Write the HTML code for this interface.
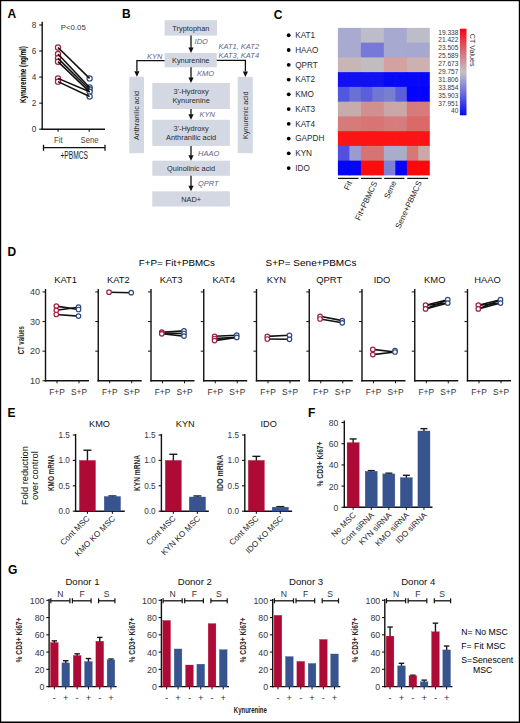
<!DOCTYPE html>
<html><head><meta charset="utf-8"><style>
html,body{margin:0;padding:0;background:#fff;}
svg{display:block;font-family:"Liberation Sans", sans-serif;}
</style></head><body>
<svg width="520" height="723" viewBox="0 0 520 723">
<rect x="0" y="0" width="520" height="723" fill="#fff"/>
<rect x="0" y="0" width="520" height="1.2" fill="#000"/>
<rect x="0" y="0" width="1.2" height="723" fill="#000"/>
<rect x="518.8" y="0" width="1.2" height="723" fill="#000"/>
<rect x="0" y="721.5" width="520" height="1.5" fill="#000"/>
<text x="7.6" y="17.72" font-size="12" font-weight="bold" fill="#000">A</text>
<text x="121.9" y="17.52" font-size="12" font-weight="bold" fill="#000">B</text>
<text x="273.7" y="18.52" font-size="12" font-weight="bold" fill="#000">C</text>
<text x="7.6" y="255.62" font-size="12" font-weight="bold" fill="#000">D</text>
<text x="7.6" y="416.82" font-size="12" font-weight="bold" fill="#000">E</text>
<text x="308" y="416.72" font-size="12" font-weight="bold" fill="#000">F</text>
<text x="8" y="573.82" font-size="12" font-weight="bold" fill="#000">G</text>
<line x1="42.2" y1="21.8" x2="42.2" y2="129.9" stroke="#111" stroke-width="1.4" stroke-linecap="butt"/>
<line x1="41.5" y1="129.2" x2="105" y2="129.2" stroke="#111" stroke-width="1.4" stroke-linecap="butt"/>
<line x1="39.2" y1="24.96" x2="42.2" y2="24.96" stroke="#111" stroke-width="1.1" stroke-linecap="butt"/>
<text x="36.4" y="27.91" font-size="8.2" text-anchor="end" fill="#333">8</text>
<line x1="39.2" y1="51.02" x2="42.2" y2="51.02" stroke="#111" stroke-width="1.1" stroke-linecap="butt"/>
<text x="36.4" y="53.97" font-size="8.2" text-anchor="end" fill="#333">6</text>
<line x1="39.2" y1="77.08" x2="42.2" y2="77.08" stroke="#111" stroke-width="1.1" stroke-linecap="butt"/>
<text x="36.4" y="80.03" font-size="8.2" text-anchor="end" fill="#333">4</text>
<line x1="39.2" y1="103.14" x2="42.2" y2="103.14" stroke="#111" stroke-width="1.1" stroke-linecap="butt"/>
<text x="36.4" y="106.09" font-size="8.2" text-anchor="end" fill="#333">2</text>
<line x1="39.2" y1="129.2" x2="42.2" y2="129.2" stroke="#111" stroke-width="1.1" stroke-linecap="butt"/>
<text x="36.4" y="132.15" font-size="8.2" text-anchor="end" fill="#333">0</text>
<line x1="58.1" y1="129.2" x2="58.1" y2="131.8" stroke="#111" stroke-width="1.1" stroke-linecap="butt"/>
<line x1="89.2" y1="129.2" x2="89.2" y2="131.8" stroke="#111" stroke-width="1.1" stroke-linecap="butt"/>
<text transform="translate(23,74.6) rotate(-90)" x="0" y="3.46" font-size="9.6" text-anchor="middle" font-weight="bold" textLength="57" lengthAdjust="spacingAndGlyphs">Kynurenine (ng/ml)</text>
<text x="73.3" y="30.28" font-size="8" text-anchor="middle" fill="#333" textLength="25" lengthAdjust="spacingAndGlyphs">P&lt;0.05</text>
<circle cx="58" cy="47.5" r="2.6" fill="#fff" stroke="#9e2244" stroke-width="1.2"/>
<circle cx="58" cy="54.02" r="2.6" fill="#fff" stroke="#9e2244" stroke-width="1.2"/>
<circle cx="58" cy="58.32" r="2.6" fill="#fff" stroke="#9e2244" stroke-width="1.2"/>
<circle cx="58" cy="61.7" r="2.6" fill="#fff" stroke="#9e2244" stroke-width="1.2"/>
<circle cx="58" cy="78.38" r="2.6" fill="#fff" stroke="#9e2244" stroke-width="1.2"/>
<circle cx="58" cy="81.64" r="2.6" fill="#fff" stroke="#9e2244" stroke-width="1.2"/>
<circle cx="89.6" cy="78.38" r="2.6" fill="#fff" stroke="#314a80" stroke-width="1.2"/>
<circle cx="89.6" cy="87.5" r="2.6" fill="#fff" stroke="#314a80" stroke-width="1.2"/>
<circle cx="89.6" cy="89.46" r="2.6" fill="#fff" stroke="#314a80" stroke-width="1.2"/>
<circle cx="89.6" cy="91.8" r="2.6" fill="#fff" stroke="#314a80" stroke-width="1.2"/>
<circle cx="89.6" cy="96.49" r="2.6" fill="#fff" stroke="#314a80" stroke-width="1.2"/>
<line x1="58" y1="47.5" x2="89.6" y2="78.38" stroke="#111" stroke-width="1.6" stroke-linecap="butt"/>
<line x1="58" y1="54.02" x2="89.6" y2="87.5" stroke="#111" stroke-width="1.6" stroke-linecap="butt"/>
<line x1="58" y1="58.32" x2="89.6" y2="89.46" stroke="#111" stroke-width="1.6" stroke-linecap="butt"/>
<line x1="58" y1="61.7" x2="89.6" y2="91.8" stroke="#111" stroke-width="1.6" stroke-linecap="butt"/>
<line x1="58" y1="78.38" x2="89.6" y2="91.8" stroke="#111" stroke-width="1.6" stroke-linecap="butt"/>
<line x1="58" y1="81.64" x2="89.6" y2="96.49" stroke="#111" stroke-width="1.6" stroke-linecap="butt"/>
<text x="58.4" y="143.24" font-size="9" text-anchor="middle" fill="#444" textLength="8.6" lengthAdjust="spacingAndGlyphs">Fit</text>
<text x="89.6" y="143.24" font-size="9" text-anchor="middle" fill="#444" textLength="18" lengthAdjust="spacingAndGlyphs">Sene</text>
<line x1="43.5" y1="147.7" x2="105" y2="147.7" stroke="#111" stroke-width="1.3" stroke-linecap="butt"/>
<line x1="43.5" y1="144.8" x2="43.5" y2="150.8" stroke="#111" stroke-width="1.3" stroke-linecap="butt"/>
<line x1="105" y1="144.8" x2="105" y2="150.8" stroke="#111" stroke-width="1.3" stroke-linecap="butt"/>
<text x="74.2" y="159.4" font-size="10" text-anchor="middle" fill="#1a1a1a" textLength="27.6" lengthAdjust="spacingAndGlyphs">+PBMCS</text>
<rect x="164.6" y="20.2" width="52.4" height="15.4" fill="#d3d8e2"/>
<text x="190.8" y="30.56" font-size="7.4" text-anchor="middle" fill="#2a2a2a">Tryptophan</text>
<rect x="164.6" y="52.9" width="52.2" height="14.4" fill="#d3d8e2"/>
<text x="190.7" y="62.76" font-size="7.4" text-anchor="middle" fill="#2a2a2a">Kynurenine</text>
<rect x="152.3" y="82.9" width="77.6" height="26.1" fill="#d3d8e2"/>
<text x="191.1" y="93.81" font-size="7.4" text-anchor="middle" fill="#2a2a2a">3'-Hydroxy</text>
<text x="191.1" y="103.41" font-size="7.4" text-anchor="middle" fill="#2a2a2a">Kynurenine</text>
<rect x="152.3" y="119.8" width="77.6" height="26.1" fill="#d3d8e2"/>
<text x="191.1" y="130.71" font-size="7.4" text-anchor="middle" fill="#2a2a2a">3'-Hydroxy</text>
<text x="191.1" y="140.31" font-size="7.4" text-anchor="middle" fill="#2a2a2a">Anthranilic acid</text>
<rect x="152.3" y="160.7" width="77.6" height="15.1" fill="#d3d8e2"/>
<text x="191.1" y="170.91" font-size="7.4" text-anchor="middle" fill="#2a2a2a">Quinolinic acid</text>
<rect x="152.3" y="191.3" width="77.6" height="15.2" fill="#d3d8e2"/>
<text x="191.1" y="201.56" font-size="7.4" text-anchor="middle" fill="#2a2a2a">NAD+</text>
<rect x="129.3" y="76.7" width="14.7" height="76.5" fill="#d3d8e2"/>
<rect x="237.7" y="76.9" width="15.1" height="76.3" fill="#d3d8e2"/>
<text transform="translate(136.7,115.5) rotate(-90)" x="0" y="2.74" font-size="7.6" text-anchor="middle" fill="#2a2a2a" textLength="49.2" lengthAdjust="spacingAndGlyphs">Anthranilic acid</text>
<text transform="translate(245.2,115.3) rotate(-90)" x="0" y="2.74" font-size="7.6" text-anchor="middle" fill="#2a2a2a" textLength="47.6" lengthAdjust="spacingAndGlyphs">Kynurenic acid</text>
<line x1="191" y1="35.6" x2="191" y2="47.9" stroke="#111" stroke-width="1.3" stroke-linecap="butt"/>
<polygon points="188.4,47.4 193.6,47.4 191,52.9" fill="#111"/>
<line x1="191" y1="67.3" x2="191" y2="77.9" stroke="#111" stroke-width="1.3" stroke-linecap="butt"/>
<polygon points="188.4,77.4 193.6,77.4 191,82.9" fill="#111"/>
<line x1="191" y1="109" x2="191" y2="114.8" stroke="#111" stroke-width="1.3" stroke-linecap="butt"/>
<polygon points="188.4,114.3 193.6,114.3 191,119.8" fill="#111"/>
<line x1="191" y1="145.9" x2="191" y2="155.7" stroke="#111" stroke-width="1.3" stroke-linecap="butt"/>
<polygon points="188.4,155.2 193.6,155.2 191,160.7" fill="#111"/>
<line x1="191" y1="175.8" x2="191" y2="186.3" stroke="#111" stroke-width="1.3" stroke-linecap="butt"/>
<polygon points="188.4,185.8 193.6,185.8 191,191.3" fill="#111"/>
<polyline points="164.6,60.6 136.9,60.6 136.9,71.5" fill="none" stroke="#111" stroke-width="1.3"/>
<polygon points="134.3,71.2 139.5,71.2 136.9,76.7" fill="#111"/>
<polyline points="216.8,60.4 245.4,60.4 245.4,71.5" fill="none" stroke="#111" stroke-width="1.3"/>
<polygon points="242.8,71.4 248.0,71.4 245.4,76.9" fill="#111"/>
<text x="194.6" y="44.2" font-size="7.5" font-style="italic" fill="#5c6488">IDO</text>
<text x="196.9" y="76.4" font-size="7.5" font-style="italic" fill="#5c6488">KMO</text>
<text x="199.4" y="117.1" font-size="7.5" font-style="italic" fill="#5c6488">KYN</text>
<text x="198" y="156.2" font-size="7.5" font-style="italic" fill="#5c6488">HAAO</text>
<text x="198" y="185.8" font-size="7.5" font-style="italic" fill="#5c6488">QPRT</text>
<text x="146.9" y="58.9" font-size="7.5" font-style="italic" fill="#5c6488">KYN</text>
<text x="218.5" y="48.5" font-size="7.5" font-style="italic" fill="#5c6488">KAT1, KAT2</text>
<text x="218.5" y="57.6" font-size="7.5" font-style="italic" fill="#5c6488">KAT3, KAT4</text>
<circle cx="288.7" cy="35.27" r="1.9" fill="#000"/>
<text x="295.2" y="38.03" font-size="8.2" fill="#2a2a2a">KAT1</text>
<rect x="337.9" y="27.9" width="12.09" height="15.35" fill="#a9aacf"/>
<rect x="349.39" y="27.9" width="12.09" height="15.35" fill="#a9aacf"/>
<rect x="360.88" y="27.9" width="12.09" height="15.35" fill="#bcbccb"/>
<rect x="372.36" y="27.9" width="12.09" height="15.35" fill="#bcbccb"/>
<rect x="383.85" y="27.9" width="12.09" height="15.35" fill="#a8a9d1"/>
<rect x="395.34" y="27.9" width="12.09" height="15.35" fill="#a8a9d1"/>
<rect x="406.82" y="27.9" width="12.09" height="15.35" fill="#bdbdc9"/>
<rect x="418.31" y="27.9" width="11.49" height="15.35" fill="#bdbdc9"/>
<circle cx="288.7" cy="50.02" r="1.9" fill="#000"/>
<text x="295.2" y="52.78" font-size="8.2" fill="#2a2a2a">HAAO</text>
<rect x="337.9" y="42.65" width="12.09" height="15.35" fill="#a9aacf"/>
<rect x="349.39" y="42.65" width="12.09" height="15.35" fill="#a9aacf"/>
<rect x="360.88" y="42.65" width="12.09" height="15.35" fill="#7878d8"/>
<rect x="372.36" y="42.65" width="12.09" height="15.35" fill="#7878d8"/>
<rect x="383.85" y="42.65" width="12.09" height="15.35" fill="#a8a9d1"/>
<rect x="395.34" y="42.65" width="12.09" height="15.35" fill="#a8a9d1"/>
<rect x="406.82" y="42.65" width="12.09" height="15.35" fill="#a6a8d0"/>
<rect x="418.31" y="42.65" width="11.49" height="15.35" fill="#a6a8d0"/>
<circle cx="288.7" cy="64.78" r="1.9" fill="#000"/>
<text x="295.2" y="67.53" font-size="8.2" fill="#2a2a2a">QPRT</text>
<rect x="337.9" y="57.4" width="12.09" height="15.35" fill="#c8b6b6"/>
<rect x="349.39" y="57.4" width="12.09" height="15.35" fill="#c8b6b6"/>
<rect x="360.88" y="57.4" width="12.09" height="15.35" fill="#c0bcc0"/>
<rect x="372.36" y="57.4" width="12.09" height="15.35" fill="#c0bcc0"/>
<rect x="383.85" y="57.4" width="12.09" height="15.35" fill="#d4a0a0"/>
<rect x="395.34" y="57.4" width="12.09" height="15.35" fill="#d4a0a0"/>
<rect x="406.82" y="57.4" width="12.09" height="15.35" fill="#cdb0b0"/>
<rect x="418.31" y="57.4" width="11.49" height="15.35" fill="#cdb0b0"/>
<circle cx="288.7" cy="79.53" r="1.9" fill="#000"/>
<text x="295.2" y="82.28" font-size="8.2" fill="#2a2a2a">KAT2</text>
<rect x="337.9" y="72.15" width="12.09" height="15.35" fill="#1010f2"/>
<rect x="349.39" y="72.15" width="12.09" height="15.35" fill="#1010f2"/>
<rect x="360.88" y="72.15" width="12.09" height="15.35" fill="#1010f2"/>
<rect x="372.36" y="72.15" width="12.09" height="15.35" fill="#1010f2"/>
<rect x="383.85" y="72.15" width="12.09" height="15.35" fill="#0808f8"/>
<rect x="395.34" y="72.15" width="12.09" height="15.35" fill="#0808f8"/>
<rect x="406.82" y="72.15" width="12.09" height="15.35" fill="#0808f8"/>
<rect x="418.31" y="72.15" width="11.49" height="15.35" fill="#0808f8"/>
<circle cx="288.7" cy="94.28" r="1.9" fill="#000"/>
<text x="295.2" y="97.03" font-size="8.2" fill="#2a2a2a">KMO</text>
<rect x="337.9" y="86.9" width="12.09" height="15.35" fill="#5058e0"/>
<rect x="349.39" y="86.9" width="12.09" height="15.35" fill="#6a70d8"/>
<rect x="360.88" y="86.9" width="12.09" height="15.35" fill="#5a60dc"/>
<rect x="372.36" y="86.9" width="12.09" height="15.35" fill="#7076d4"/>
<rect x="383.85" y="86.9" width="12.09" height="15.35" fill="#787ed0"/>
<rect x="395.34" y="86.9" width="12.09" height="15.35" fill="#5a60dc"/>
<rect x="406.82" y="86.9" width="12.09" height="15.35" fill="#0404fa"/>
<rect x="418.31" y="86.9" width="11.49" height="15.35" fill="#0404fa"/>
<circle cx="288.7" cy="109.03" r="1.9" fill="#000"/>
<text x="295.2" y="111.78" font-size="8.2" fill="#2a2a2a">KAT3</text>
<rect x="337.9" y="101.65" width="12.09" height="15.35" fill="#c8acac"/>
<rect x="349.39" y="101.65" width="12.09" height="15.35" fill="#c8acac"/>
<rect x="360.88" y="101.65" width="12.09" height="15.35" fill="#d09090"/>
<rect x="372.36" y="101.65" width="12.09" height="15.35" fill="#d09090"/>
<rect x="383.85" y="101.65" width="12.09" height="15.35" fill="#cba6a6"/>
<rect x="395.34" y="101.65" width="12.09" height="15.35" fill="#cba6a6"/>
<rect x="406.82" y="101.65" width="12.09" height="15.35" fill="#d67a7a"/>
<rect x="418.31" y="101.65" width="11.49" height="15.35" fill="#d67a7a"/>
<circle cx="288.7" cy="123.78" r="1.9" fill="#000"/>
<text x="295.2" y="126.53" font-size="8.2" fill="#2a2a2a">KAT4</text>
<rect x="337.9" y="116.4" width="12.09" height="15.35" fill="#d67a7a"/>
<rect x="349.39" y="116.4" width="12.09" height="15.35" fill="#d67a7a"/>
<rect x="360.88" y="116.4" width="12.09" height="15.35" fill="#d87474"/>
<rect x="372.36" y="116.4" width="12.09" height="15.35" fill="#d87474"/>
<rect x="383.85" y="116.4" width="12.09" height="15.35" fill="#d67c7c"/>
<rect x="395.34" y="116.4" width="12.09" height="15.35" fill="#d67c7c"/>
<rect x="406.82" y="116.4" width="12.09" height="15.35" fill="#dc6868"/>
<rect x="418.31" y="116.4" width="11.49" height="15.35" fill="#dc6868"/>
<circle cx="288.7" cy="138.53" r="1.9" fill="#000"/>
<text x="295.2" y="141.28" font-size="8.2" fill="#2a2a2a">GAPDH</text>
<rect x="337.9" y="131.15" width="12.09" height="15.35" fill="#fc1414"/>
<rect x="349.39" y="131.15" width="12.09" height="15.35" fill="#fc1414"/>
<rect x="360.88" y="131.15" width="12.09" height="15.35" fill="#fc1414"/>
<rect x="372.36" y="131.15" width="12.09" height="15.35" fill="#fc1414"/>
<rect x="383.85" y="131.15" width="12.09" height="15.35" fill="#fc1414"/>
<rect x="395.34" y="131.15" width="12.09" height="15.35" fill="#fc1414"/>
<rect x="406.82" y="131.15" width="12.09" height="15.35" fill="#fc1414"/>
<rect x="418.31" y="131.15" width="11.49" height="15.35" fill="#fc1414"/>
<circle cx="288.7" cy="153.28" r="1.9" fill="#000"/>
<text x="295.2" y="156.03" font-size="8.2" fill="#2a2a2a">KYN</text>
<rect x="337.9" y="145.9" width="12.09" height="15.35" fill="#5050e0"/>
<rect x="349.39" y="145.9" width="12.09" height="15.35" fill="#9a9cd0"/>
<rect x="360.88" y="145.9" width="12.09" height="15.35" fill="#d67474"/>
<rect x="372.36" y="145.9" width="12.09" height="15.35" fill="#d67474"/>
<rect x="383.85" y="145.9" width="12.09" height="15.35" fill="#aaaccc"/>
<rect x="395.34" y="145.9" width="12.09" height="15.35" fill="#aaaccc"/>
<rect x="406.82" y="145.9" width="12.09" height="15.35" fill="#d67878"/>
<rect x="418.31" y="145.9" width="11.49" height="15.35" fill="#c8a8a8"/>
<circle cx="288.7" cy="168.03" r="1.9" fill="#000"/>
<text x="295.2" y="170.78" font-size="8.2" fill="#2a2a2a">IDO</text>
<rect x="337.9" y="160.65" width="12.09" height="14.75" fill="#0404fa"/>
<rect x="349.39" y="160.65" width="12.09" height="14.75" fill="#0404fa"/>
<rect x="360.88" y="160.65" width="12.09" height="14.75" fill="#fc0c0c"/>
<rect x="372.36" y="160.65" width="12.09" height="14.75" fill="#fc0c0c"/>
<rect x="383.85" y="160.65" width="12.09" height="14.75" fill="#7c80d6"/>
<rect x="395.34" y="160.65" width="12.09" height="14.75" fill="#0404fa"/>
<rect x="406.82" y="160.65" width="12.09" height="14.75" fill="#fc0808"/>
<rect x="418.31" y="160.65" width="11.49" height="14.75" fill="#fc0808"/>
<line x1="338" y1="178.4" x2="358.5" y2="178.4" stroke="#111" stroke-width="1.2" stroke-linecap="butt"/>
<line x1="361" y1="178.4" x2="381.8" y2="178.4" stroke="#111" stroke-width="1.2" stroke-linecap="butt"/>
<line x1="384.2" y1="178.4" x2="404.4" y2="178.4" stroke="#111" stroke-width="1.2" stroke-linecap="butt"/>
<line x1="407.2" y1="178.4" x2="428.2" y2="178.4" stroke="#111" stroke-width="1.2" stroke-linecap="butt"/>
<text transform="translate(352.3,182.6) rotate(-65)" x="0" y="0" font-size="8" text-anchor="end" fill="#222">Fit</text>
<text transform="translate(377.5,182.8) rotate(-65)" x="0" y="0" font-size="8" text-anchor="end" fill="#222">Fit+PBMCS</text>
<text transform="translate(396.6,182.4) rotate(-65)" x="0" y="0" font-size="8" text-anchor="end" fill="#222">Sene</text>
<text transform="translate(422.0,182.3) rotate(-65)" x="0" y="0" font-size="8" text-anchor="end" fill="#222">Sene+PBMCS</text>
<defs><linearGradient id="cb" x1="0" y1="0" x2="0" y2="1"><stop offset="0" stop-color="#f80010"/><stop offset="0.25" stop-color="#d86a72"/><stop offset="0.5" stop-color="#c4c2c8"/><stop offset="0.75" stop-color="#6a6ad8"/><stop offset="1" stop-color="#0808f0"/></linearGradient></defs>
<rect x="459.9" y="28.7" width="6.6" height="86.6" fill="url(#cb)"/>
<text x="458.4" y="34.58" font-size="6.6" text-anchor="end" fill="#383838">19.338</text>
<text x="458.4" y="42.46" font-size="6.6" text-anchor="end" fill="#383838">21.422</text>
<text x="458.4" y="50.34" font-size="6.6" text-anchor="end" fill="#383838">23.505</text>
<text x="458.4" y="58.22" font-size="6.6" text-anchor="end" fill="#383838">25.589</text>
<text x="458.4" y="66.1" font-size="6.6" text-anchor="end" fill="#383838">27.673</text>
<text x="458.4" y="73.98" font-size="6.6" text-anchor="end" fill="#383838">29.757</text>
<text x="458.4" y="81.86" font-size="6.6" text-anchor="end" fill="#383838">31.806</text>
<text x="458.4" y="89.74" font-size="6.6" text-anchor="end" fill="#383838">33.854</text>
<text x="458.4" y="97.62" font-size="6.6" text-anchor="end" fill="#383838">35.903</text>
<text x="458.4" y="105.5" font-size="6.6" text-anchor="end" fill="#383838">37.951</text>
<text x="458.4" y="113.38" font-size="6.6" text-anchor="end" fill="#383838">40</text>
<text transform="translate(472.7,50.2) rotate(90)" x="0" y="2.59" font-size="7.2" text-anchor="middle" fill="#333">CT Values</text>
<text x="138.8" y="265.74" font-size="9" textLength="76.2" lengthAdjust="spacingAndGlyphs">F+P= Fit+PBMCs</text>
<text x="265.6" y="266.44" font-size="9" textLength="90.8" lengthAdjust="spacingAndGlyphs">S+P= Sene+PBMCs</text>
<text x="65.5" y="283.38" font-size="9.4" text-anchor="middle" fill="#111">KAT1</text>
<line x1="45.5" y1="289" x2="45.5" y2="381.45" stroke="#111" stroke-width="1.4" stroke-linecap="butt"/>
<line x1="44.8" y1="380.75" x2="89" y2="380.75" stroke="#111" stroke-width="1.4" stroke-linecap="butt"/>
<line x1="42.5" y1="291.95" x2="45.5" y2="291.95" stroke="#111" stroke-width="1" stroke-linecap="butt"/>
<line x1="42.5" y1="321.55" x2="45.5" y2="321.55" stroke="#111" stroke-width="1" stroke-linecap="butt"/>
<line x1="42.5" y1="351.15" x2="45.5" y2="351.15" stroke="#111" stroke-width="1" stroke-linecap="butt"/>
<line x1="57" y1="380.75" x2="57" y2="383.3" stroke="#111" stroke-width="1" stroke-linecap="butt"/>
<line x1="79" y1="380.75" x2="79" y2="383.3" stroke="#111" stroke-width="1" stroke-linecap="butt"/>
<text x="57" y="394.77" font-size="8.4" text-anchor="middle" fill="#333">F+P</text>
<text x="79" y="394.77" font-size="8.4" text-anchor="middle" fill="#333">S+P</text>
<line x1="56.3" y1="306.1" x2="78.5" y2="309.5" stroke="#111" stroke-width="1.6" stroke-linecap="butt"/>
<line x1="56.3" y1="310.3" x2="78.5" y2="307.2" stroke="#111" stroke-width="1.6" stroke-linecap="butt"/>
<line x1="56.3" y1="314.5" x2="78.5" y2="316.1" stroke="#111" stroke-width="1.6" stroke-linecap="butt"/>
<circle cx="56.3" cy="306.1" r="2.25" fill="#fff" stroke="#9e2244" stroke-width="1.2"/>
<circle cx="56.3" cy="310.3" r="2.25" fill="#fff" stroke="#9e2244" stroke-width="1.2"/>
<circle cx="56.3" cy="314.5" r="2.25" fill="#fff" stroke="#9e2244" stroke-width="1.2"/>
<circle cx="78.5" cy="307.2" r="2.25" fill="#fff" stroke="#314a80" stroke-width="1.2"/>
<circle cx="78.5" cy="309.5" r="2.25" fill="#fff" stroke="#314a80" stroke-width="1.2"/>
<circle cx="78.5" cy="316.1" r="2.25" fill="#fff" stroke="#314a80" stroke-width="1.2"/>
<text x="118.25" y="283.38" font-size="9.4" text-anchor="middle" fill="#111">KAT2</text>
<line x1="98.25" y1="289" x2="98.25" y2="381.45" stroke="#111" stroke-width="1.4" stroke-linecap="butt"/>
<line x1="97.55" y1="380.75" x2="141.75" y2="380.75" stroke="#111" stroke-width="1.4" stroke-linecap="butt"/>
<line x1="95.25" y1="291.95" x2="98.25" y2="291.95" stroke="#111" stroke-width="1" stroke-linecap="butt"/>
<line x1="95.25" y1="321.55" x2="98.25" y2="321.55" stroke="#111" stroke-width="1" stroke-linecap="butt"/>
<line x1="95.25" y1="351.15" x2="98.25" y2="351.15" stroke="#111" stroke-width="1" stroke-linecap="butt"/>
<line x1="109.75" y1="380.75" x2="109.75" y2="383.3" stroke="#111" stroke-width="1" stroke-linecap="butt"/>
<line x1="131.75" y1="380.75" x2="131.75" y2="383.3" stroke="#111" stroke-width="1" stroke-linecap="butt"/>
<text x="109.75" y="394.77" font-size="8.4" text-anchor="middle" fill="#333">F+P</text>
<text x="131.75" y="394.77" font-size="8.4" text-anchor="middle" fill="#333">S+P</text>
<line x1="109.05" y1="292.2" x2="131.25" y2="292.7" stroke="#111" stroke-width="1.6" stroke-linecap="butt"/>
<circle cx="109.05" cy="292.2" r="2.25" fill="#fff" stroke="#9e2244" stroke-width="1.2"/>
<circle cx="131.25" cy="292.7" r="2.25" fill="#fff" stroke="#314a80" stroke-width="1.2"/>
<text x="171" y="283.38" font-size="9.4" text-anchor="middle" fill="#111">KAT3</text>
<line x1="151" y1="289" x2="151" y2="381.45" stroke="#111" stroke-width="1.4" stroke-linecap="butt"/>
<line x1="150.3" y1="380.75" x2="194.5" y2="380.75" stroke="#111" stroke-width="1.4" stroke-linecap="butt"/>
<line x1="148" y1="291.95" x2="151" y2="291.95" stroke="#111" stroke-width="1" stroke-linecap="butt"/>
<line x1="148" y1="321.55" x2="151" y2="321.55" stroke="#111" stroke-width="1" stroke-linecap="butt"/>
<line x1="148" y1="351.15" x2="151" y2="351.15" stroke="#111" stroke-width="1" stroke-linecap="butt"/>
<line x1="162.5" y1="380.75" x2="162.5" y2="383.3" stroke="#111" stroke-width="1" stroke-linecap="butt"/>
<line x1="184.5" y1="380.75" x2="184.5" y2="383.3" stroke="#111" stroke-width="1" stroke-linecap="butt"/>
<text x="162.5" y="394.77" font-size="8.4" text-anchor="middle" fill="#333">F+P</text>
<text x="184.5" y="394.77" font-size="8.4" text-anchor="middle" fill="#333">S+P</text>
<line x1="161.8" y1="332.2" x2="184" y2="330.9" stroke="#111" stroke-width="1.6" stroke-linecap="butt"/>
<line x1="161.8" y1="333" x2="184" y2="333.5" stroke="#111" stroke-width="1.6" stroke-linecap="butt"/>
<line x1="161.8" y1="333.8" x2="184" y2="336.1" stroke="#111" stroke-width="1.6" stroke-linecap="butt"/>
<circle cx="161.8" cy="332.2" r="2.25" fill="#fff" stroke="#9e2244" stroke-width="1.2"/>
<circle cx="161.8" cy="333" r="2.25" fill="#fff" stroke="#9e2244" stroke-width="1.2"/>
<circle cx="161.8" cy="333.8" r="2.25" fill="#fff" stroke="#9e2244" stroke-width="1.2"/>
<circle cx="184" cy="330.9" r="2.25" fill="#fff" stroke="#314a80" stroke-width="1.2"/>
<circle cx="184" cy="333.5" r="2.25" fill="#fff" stroke="#314a80" stroke-width="1.2"/>
<circle cx="184" cy="336.1" r="2.25" fill="#fff" stroke="#314a80" stroke-width="1.2"/>
<text x="223.75" y="283.38" font-size="9.4" text-anchor="middle" fill="#111">KAT4</text>
<line x1="203.75" y1="289" x2="203.75" y2="381.45" stroke="#111" stroke-width="1.4" stroke-linecap="butt"/>
<line x1="203.05" y1="380.75" x2="247.25" y2="380.75" stroke="#111" stroke-width="1.4" stroke-linecap="butt"/>
<line x1="200.75" y1="291.95" x2="203.75" y2="291.95" stroke="#111" stroke-width="1" stroke-linecap="butt"/>
<line x1="200.75" y1="321.55" x2="203.75" y2="321.55" stroke="#111" stroke-width="1" stroke-linecap="butt"/>
<line x1="200.75" y1="351.15" x2="203.75" y2="351.15" stroke="#111" stroke-width="1" stroke-linecap="butt"/>
<line x1="215.25" y1="380.75" x2="215.25" y2="383.3" stroke="#111" stroke-width="1" stroke-linecap="butt"/>
<line x1="237.25" y1="380.75" x2="237.25" y2="383.3" stroke="#111" stroke-width="1" stroke-linecap="butt"/>
<text x="215.25" y="394.77" font-size="8.4" text-anchor="middle" fill="#333">F+P</text>
<text x="237.25" y="394.77" font-size="8.4" text-anchor="middle" fill="#333">S+P</text>
<line x1="214.55" y1="336.3" x2="236.75" y2="335.2" stroke="#111" stroke-width="1.6" stroke-linecap="butt"/>
<line x1="214.55" y1="338.5" x2="236.75" y2="337.4" stroke="#111" stroke-width="1.6" stroke-linecap="butt"/>
<line x1="214.55" y1="340.6" x2="236.75" y2="337.4" stroke="#111" stroke-width="1.6" stroke-linecap="butt"/>
<circle cx="214.55" cy="336.3" r="2.25" fill="#fff" stroke="#9e2244" stroke-width="1.2"/>
<circle cx="214.55" cy="338.5" r="2.25" fill="#fff" stroke="#9e2244" stroke-width="1.2"/>
<circle cx="214.55" cy="340.6" r="2.25" fill="#fff" stroke="#9e2244" stroke-width="1.2"/>
<circle cx="236.75" cy="335.2" r="2.25" fill="#fff" stroke="#314a80" stroke-width="1.2"/>
<circle cx="236.75" cy="337.4" r="2.25" fill="#fff" stroke="#314a80" stroke-width="1.2"/>
<text x="276.5" y="283.38" font-size="9.4" text-anchor="middle" fill="#111">KYN</text>
<line x1="256.5" y1="289" x2="256.5" y2="381.45" stroke="#111" stroke-width="1.4" stroke-linecap="butt"/>
<line x1="255.8" y1="380.75" x2="300" y2="380.75" stroke="#111" stroke-width="1.4" stroke-linecap="butt"/>
<line x1="253.5" y1="291.95" x2="256.5" y2="291.95" stroke="#111" stroke-width="1" stroke-linecap="butt"/>
<line x1="253.5" y1="321.55" x2="256.5" y2="321.55" stroke="#111" stroke-width="1" stroke-linecap="butt"/>
<line x1="253.5" y1="351.15" x2="256.5" y2="351.15" stroke="#111" stroke-width="1" stroke-linecap="butt"/>
<line x1="268" y1="380.75" x2="268" y2="383.3" stroke="#111" stroke-width="1" stroke-linecap="butt"/>
<line x1="290" y1="380.75" x2="290" y2="383.3" stroke="#111" stroke-width="1" stroke-linecap="butt"/>
<text x="268" y="394.77" font-size="8.4" text-anchor="middle" fill="#333">F+P</text>
<text x="290" y="394.77" font-size="8.4" text-anchor="middle" fill="#333">S+P</text>
<line x1="267.3" y1="336.4" x2="289.5" y2="335.3" stroke="#111" stroke-width="1.6" stroke-linecap="butt"/>
<line x1="267.3" y1="339" x2="289.5" y2="339.3" stroke="#111" stroke-width="1.6" stroke-linecap="butt"/>
<circle cx="267.3" cy="336.4" r="2.25" fill="#fff" stroke="#9e2244" stroke-width="1.2"/>
<circle cx="267.3" cy="339" r="2.25" fill="#fff" stroke="#9e2244" stroke-width="1.2"/>
<circle cx="289.5" cy="335.3" r="2.25" fill="#fff" stroke="#314a80" stroke-width="1.2"/>
<circle cx="289.5" cy="339.3" r="2.25" fill="#fff" stroke="#314a80" stroke-width="1.2"/>
<text x="329.25" y="283.38" font-size="9.4" text-anchor="middle" fill="#111">QPRT</text>
<line x1="309.25" y1="289" x2="309.25" y2="381.45" stroke="#111" stroke-width="1.4" stroke-linecap="butt"/>
<line x1="308.55" y1="380.75" x2="352.75" y2="380.75" stroke="#111" stroke-width="1.4" stroke-linecap="butt"/>
<line x1="306.25" y1="291.95" x2="309.25" y2="291.95" stroke="#111" stroke-width="1" stroke-linecap="butt"/>
<line x1="306.25" y1="321.55" x2="309.25" y2="321.55" stroke="#111" stroke-width="1" stroke-linecap="butt"/>
<line x1="306.25" y1="351.15" x2="309.25" y2="351.15" stroke="#111" stroke-width="1" stroke-linecap="butt"/>
<line x1="320.75" y1="380.75" x2="320.75" y2="383.3" stroke="#111" stroke-width="1" stroke-linecap="butt"/>
<line x1="342.75" y1="380.75" x2="342.75" y2="383.3" stroke="#111" stroke-width="1" stroke-linecap="butt"/>
<text x="320.75" y="394.77" font-size="8.4" text-anchor="middle" fill="#333">F+P</text>
<text x="342.75" y="394.77" font-size="8.4" text-anchor="middle" fill="#333">S+P</text>
<line x1="320.05" y1="316.3" x2="342.25" y2="320.6" stroke="#111" stroke-width="1.6" stroke-linecap="butt"/>
<line x1="320.05" y1="319" x2="342.25" y2="322.8" stroke="#111" stroke-width="1.6" stroke-linecap="butt"/>
<circle cx="320.05" cy="316.3" r="2.25" fill="#fff" stroke="#9e2244" stroke-width="1.2"/>
<circle cx="320.05" cy="319" r="2.25" fill="#fff" stroke="#9e2244" stroke-width="1.2"/>
<circle cx="342.25" cy="320.6" r="2.25" fill="#fff" stroke="#314a80" stroke-width="1.2"/>
<circle cx="342.25" cy="322.8" r="2.25" fill="#fff" stroke="#314a80" stroke-width="1.2"/>
<text x="382" y="283.38" font-size="9.4" text-anchor="middle" fill="#111">IDO</text>
<line x1="362" y1="289" x2="362" y2="381.45" stroke="#111" stroke-width="1.4" stroke-linecap="butt"/>
<line x1="361.3" y1="380.75" x2="405.5" y2="380.75" stroke="#111" stroke-width="1.4" stroke-linecap="butt"/>
<line x1="359" y1="291.95" x2="362" y2="291.95" stroke="#111" stroke-width="1" stroke-linecap="butt"/>
<line x1="359" y1="321.55" x2="362" y2="321.55" stroke="#111" stroke-width="1" stroke-linecap="butt"/>
<line x1="359" y1="351.15" x2="362" y2="351.15" stroke="#111" stroke-width="1" stroke-linecap="butt"/>
<line x1="373.5" y1="380.75" x2="373.5" y2="383.3" stroke="#111" stroke-width="1" stroke-linecap="butt"/>
<line x1="395.5" y1="380.75" x2="395.5" y2="383.3" stroke="#111" stroke-width="1" stroke-linecap="butt"/>
<text x="373.5" y="394.77" font-size="8.4" text-anchor="middle" fill="#333">F+P</text>
<text x="395.5" y="394.77" font-size="8.4" text-anchor="middle" fill="#333">S+P</text>
<line x1="372.8" y1="349.4" x2="395" y2="352" stroke="#111" stroke-width="1.6" stroke-linecap="butt"/>
<line x1="372.8" y1="354.6" x2="395" y2="352" stroke="#111" stroke-width="1.6" stroke-linecap="butt"/>
<circle cx="372.8" cy="349.4" r="2.25" fill="#fff" stroke="#9e2244" stroke-width="1.2"/>
<circle cx="372.8" cy="354.6" r="2.25" fill="#fff" stroke="#9e2244" stroke-width="1.2"/>
<circle cx="395" cy="350.6" r="2.25" fill="#fff" stroke="#314a80" stroke-width="1.2"/>
<circle cx="395" cy="352" r="2.25" fill="#fff" stroke="#314a80" stroke-width="1.2"/>
<text x="434.75" y="283.38" font-size="9.4" text-anchor="middle" fill="#111">KMO</text>
<line x1="414.75" y1="289" x2="414.75" y2="381.45" stroke="#111" stroke-width="1.4" stroke-linecap="butt"/>
<line x1="414.05" y1="380.75" x2="458.25" y2="380.75" stroke="#111" stroke-width="1.4" stroke-linecap="butt"/>
<line x1="411.75" y1="291.95" x2="414.75" y2="291.95" stroke="#111" stroke-width="1" stroke-linecap="butt"/>
<line x1="411.75" y1="321.55" x2="414.75" y2="321.55" stroke="#111" stroke-width="1" stroke-linecap="butt"/>
<line x1="411.75" y1="351.15" x2="414.75" y2="351.15" stroke="#111" stroke-width="1" stroke-linecap="butt"/>
<line x1="426.25" y1="380.75" x2="426.25" y2="383.3" stroke="#111" stroke-width="1" stroke-linecap="butt"/>
<line x1="448.25" y1="380.75" x2="448.25" y2="383.3" stroke="#111" stroke-width="1" stroke-linecap="butt"/>
<text x="426.25" y="394.77" font-size="8.4" text-anchor="middle" fill="#333">F+P</text>
<text x="448.25" y="394.77" font-size="8.4" text-anchor="middle" fill="#333">S+P</text>
<line x1="425.55" y1="305.2" x2="447.75" y2="299.7" stroke="#111" stroke-width="1.6" stroke-linecap="butt"/>
<line x1="425.55" y1="308.9" x2="447.75" y2="303.1" stroke="#111" stroke-width="1.6" stroke-linecap="butt"/>
<line x1="425.55" y1="305.2" x2="447.75" y2="303.1" stroke="#111" stroke-width="1.6" stroke-linecap="butt"/>
<line x1="425.55" y1="308.9" x2="447.75" y2="299.7" stroke="#111" stroke-width="1.6" stroke-linecap="butt"/>
<circle cx="425.55" cy="305.2" r="2.25" fill="#fff" stroke="#9e2244" stroke-width="1.2"/>
<circle cx="425.55" cy="308.9" r="2.25" fill="#fff" stroke="#9e2244" stroke-width="1.2"/>
<circle cx="447.75" cy="299.7" r="2.25" fill="#fff" stroke="#314a80" stroke-width="1.2"/>
<circle cx="447.75" cy="303.1" r="2.25" fill="#fff" stroke="#314a80" stroke-width="1.2"/>
<text x="487.5" y="283.38" font-size="9.4" text-anchor="middle" fill="#111">HAAO</text>
<line x1="467.5" y1="289" x2="467.5" y2="381.45" stroke="#111" stroke-width="1.4" stroke-linecap="butt"/>
<line x1="466.8" y1="380.75" x2="511" y2="380.75" stroke="#111" stroke-width="1.4" stroke-linecap="butt"/>
<line x1="464.5" y1="291.95" x2="467.5" y2="291.95" stroke="#111" stroke-width="1" stroke-linecap="butt"/>
<line x1="464.5" y1="321.55" x2="467.5" y2="321.55" stroke="#111" stroke-width="1" stroke-linecap="butt"/>
<line x1="464.5" y1="351.15" x2="467.5" y2="351.15" stroke="#111" stroke-width="1" stroke-linecap="butt"/>
<line x1="479" y1="380.75" x2="479" y2="383.3" stroke="#111" stroke-width="1" stroke-linecap="butt"/>
<line x1="501" y1="380.75" x2="501" y2="383.3" stroke="#111" stroke-width="1" stroke-linecap="butt"/>
<text x="479" y="394.77" font-size="8.4" text-anchor="middle" fill="#333">F+P</text>
<text x="501" y="394.77" font-size="8.4" text-anchor="middle" fill="#333">S+P</text>
<line x1="478.3" y1="305.2" x2="500.5" y2="299.7" stroke="#111" stroke-width="1.6" stroke-linecap="butt"/>
<line x1="478.3" y1="308.9" x2="500.5" y2="303.1" stroke="#111" stroke-width="1.6" stroke-linecap="butt"/>
<line x1="478.3" y1="305.2" x2="500.5" y2="303.1" stroke="#111" stroke-width="1.6" stroke-linecap="butt"/>
<line x1="478.3" y1="308.9" x2="500.5" y2="299.7" stroke="#111" stroke-width="1.6" stroke-linecap="butt"/>
<circle cx="478.3" cy="305.2" r="2.25" fill="#fff" stroke="#9e2244" stroke-width="1.2"/>
<circle cx="478.3" cy="308.9" r="2.25" fill="#fff" stroke="#9e2244" stroke-width="1.2"/>
<circle cx="500.5" cy="299.7" r="2.25" fill="#fff" stroke="#314a80" stroke-width="1.2"/>
<circle cx="500.5" cy="303.1" r="2.25" fill="#fff" stroke="#314a80" stroke-width="1.2"/>
<line x1="42.5" y1="380.75" x2="45.5" y2="380.75" stroke="#111" stroke-width="1" stroke-linecap="butt"/>
<text x="40" y="295.19" font-size="9" text-anchor="end" fill="#3a3a3a">40</text>
<text x="40" y="324.79" font-size="9" text-anchor="end" fill="#3a3a3a">30</text>
<text x="40" y="354.39" font-size="9" text-anchor="end" fill="#3a3a3a">20</text>
<text x="40" y="383.99" font-size="9" text-anchor="end" fill="#3a3a3a">10</text>
<text transform="translate(21,340.2) rotate(-90)" x="0" y="3.46" font-size="9.6" text-anchor="middle" font-weight="bold" fill="#2a2a2a" textLength="28.2" lengthAdjust="spacingAndGlyphs">CT values</text>
<text transform="translate(24.3,475.6) rotate(-90)" x="0" y="3.35" font-size="9.3" text-anchor="middle" textLength="58.8" lengthAdjust="spacingAndGlyphs">Fold reduction</text>
<text transform="translate(34.3,475.6) rotate(-90)" x="0" y="3.35" font-size="9.3" text-anchor="middle" textLength="48.8" lengthAdjust="spacingAndGlyphs">over control</text>
<text x="99.5" y="427.11" font-size="9.2" text-anchor="middle" fill="#111">KMO</text>
<text transform="translate(50.6,473) rotate(-90)" x="0" y="3.31" font-size="9.2" text-anchor="middle" font-weight="bold" fill="#2a2a2a" textLength="36" lengthAdjust="spacingAndGlyphs">KMO mRNA</text>
<line x1="75.6" y1="434" x2="75.6" y2="511.9" stroke="#111" stroke-width="1.4" stroke-linecap="butt"/>
<line x1="74.9" y1="511.2" x2="124.8" y2="511.2" stroke="#111" stroke-width="1.4" stroke-linecap="butt"/>
<line x1="72.8" y1="435" x2="75.6" y2="435" stroke="#111" stroke-width="1.1" stroke-linecap="butt"/>
<text x="69.8" y="437.95" font-size="8.2" text-anchor="end" fill="#383838">1.5</text>
<line x1="72.8" y1="460.4" x2="75.6" y2="460.4" stroke="#111" stroke-width="1.1" stroke-linecap="butt"/>
<text x="69.8" y="463.35" font-size="8.2" text-anchor="end" fill="#383838">1.0</text>
<line x1="72.8" y1="485.8" x2="75.6" y2="485.8" stroke="#111" stroke-width="1.1" stroke-linecap="butt"/>
<text x="69.8" y="488.75" font-size="8.2" text-anchor="end" fill="#383838">0.5</text>
<line x1="72.8" y1="511.2" x2="75.6" y2="511.2" stroke="#111" stroke-width="1.1" stroke-linecap="butt"/>
<text x="69.8" y="514.15" font-size="8.2" text-anchor="end" fill="#383838">0.0</text>
<line x1="87.45" y1="450.24" x2="87.45" y2="461.4" stroke="#1a1a1a" stroke-width="1.4" stroke-linecap="butt"/>
<line x1="83.45" y1="450.24" x2="91.45" y2="450.24" stroke="#1a1a1a" stroke-width="1.4" stroke-linecap="butt"/>
<rect x="79.4" y="460.4" width="16.1" height="50.8" fill="#ae0a36" stroke="#ae0a36" stroke-width="0.3"/>
<line x1="112.4" y1="495.96" x2="112.4" y2="497.47" stroke="#1a1a1a" stroke-width="1.4" stroke-linecap="butt"/>
<line x1="108.4" y1="495.96" x2="116.4" y2="495.96" stroke="#1a1a1a" stroke-width="1.4" stroke-linecap="butt"/>
<rect x="104.2" y="496.47" width="16.4" height="14.73" fill="#38548e" stroke="#38548e" stroke-width="0.3"/>
<line x1="87.45" y1="511.2" x2="87.45" y2="513.8" stroke="#111" stroke-width="1.1" stroke-linecap="butt"/>
<line x1="112.4" y1="511.2" x2="112.4" y2="513.8" stroke="#111" stroke-width="1.1" stroke-linecap="butt"/>
<text transform="translate(90.3,519) rotate(-45)" x="0" y="0" font-size="8.2" text-anchor="end" fill="#222">Cont MSC</text>
<text transform="translate(115.8,519.3) rotate(-45)" x="0" y="0" font-size="8.2" text-anchor="end" fill="#222">KMO KO MSC</text>
<text x="185.3" y="427.11" font-size="9.2" text-anchor="middle" fill="#111">KYN</text>
<text transform="translate(136.4,473) rotate(-90)" x="0" y="3.31" font-size="9.2" text-anchor="middle" font-weight="bold" fill="#2a2a2a" textLength="36" lengthAdjust="spacingAndGlyphs">KYN mRNA</text>
<line x1="161.4" y1="434" x2="161.4" y2="511.9" stroke="#111" stroke-width="1.4" stroke-linecap="butt"/>
<line x1="160.7" y1="511.2" x2="208.8" y2="511.2" stroke="#111" stroke-width="1.4" stroke-linecap="butt"/>
<line x1="158.6" y1="435" x2="161.4" y2="435" stroke="#111" stroke-width="1.1" stroke-linecap="butt"/>
<text x="155.6" y="437.95" font-size="8.2" text-anchor="end" fill="#383838">1.5</text>
<line x1="158.6" y1="460.4" x2="161.4" y2="460.4" stroke="#111" stroke-width="1.1" stroke-linecap="butt"/>
<text x="155.6" y="463.35" font-size="8.2" text-anchor="end" fill="#383838">1.0</text>
<line x1="158.6" y1="485.8" x2="161.4" y2="485.8" stroke="#111" stroke-width="1.1" stroke-linecap="butt"/>
<text x="155.6" y="488.75" font-size="8.2" text-anchor="end" fill="#383838">0.5</text>
<line x1="158.6" y1="511.2" x2="161.4" y2="511.2" stroke="#111" stroke-width="1.1" stroke-linecap="butt"/>
<text x="155.6" y="514.15" font-size="8.2" text-anchor="end" fill="#383838">0.0</text>
<line x1="173.35" y1="454.3" x2="173.35" y2="461.4" stroke="#1a1a1a" stroke-width="1.4" stroke-linecap="butt"/>
<line x1="169.35" y1="454.3" x2="177.35" y2="454.3" stroke="#1a1a1a" stroke-width="1.4" stroke-linecap="butt"/>
<rect x="165.3" y="460.4" width="16.1" height="50.8" fill="#ae0a36" stroke="#ae0a36" stroke-width="0.3"/>
<line x1="197.4" y1="495.96" x2="197.4" y2="497.98" stroke="#1a1a1a" stroke-width="1.4" stroke-linecap="butt"/>
<line x1="193.4" y1="495.96" x2="201.4" y2="495.96" stroke="#1a1a1a" stroke-width="1.4" stroke-linecap="butt"/>
<rect x="189.2" y="496.98" width="16.4" height="14.22" fill="#38548e" stroke="#38548e" stroke-width="0.3"/>
<line x1="173.35" y1="511.2" x2="173.35" y2="513.8" stroke="#111" stroke-width="1.1" stroke-linecap="butt"/>
<line x1="197.4" y1="511.2" x2="197.4" y2="513.8" stroke="#111" stroke-width="1.1" stroke-linecap="butt"/>
<text transform="translate(176.2,519) rotate(-45)" x="0" y="0" font-size="8.2" text-anchor="end" fill="#222">Cont MSC</text>
<text transform="translate(200.8,519.3) rotate(-45)" x="0" y="0" font-size="8.2" text-anchor="end" fill="#222">KYN KO MSC</text>
<text x="268.7" y="427.11" font-size="9.2" text-anchor="middle" fill="#111">IDO</text>
<text transform="translate(219.8,473) rotate(-90)" x="0" y="3.31" font-size="9.2" text-anchor="middle" font-weight="bold" fill="#2a2a2a" textLength="36" lengthAdjust="spacingAndGlyphs">IDO mRNA</text>
<line x1="244.8" y1="434" x2="244.8" y2="511.9" stroke="#111" stroke-width="1.4" stroke-linecap="butt"/>
<line x1="244.1" y1="511.2" x2="292.1" y2="511.2" stroke="#111" stroke-width="1.4" stroke-linecap="butt"/>
<line x1="242" y1="435" x2="244.8" y2="435" stroke="#111" stroke-width="1.1" stroke-linecap="butt"/>
<text x="239" y="437.95" font-size="8.2" text-anchor="end" fill="#383838">1.5</text>
<line x1="242" y1="460.4" x2="244.8" y2="460.4" stroke="#111" stroke-width="1.1" stroke-linecap="butt"/>
<text x="239" y="463.35" font-size="8.2" text-anchor="end" fill="#383838">1.0</text>
<line x1="242" y1="485.8" x2="244.8" y2="485.8" stroke="#111" stroke-width="1.1" stroke-linecap="butt"/>
<text x="239" y="488.75" font-size="8.2" text-anchor="end" fill="#383838">0.5</text>
<line x1="242" y1="511.2" x2="244.8" y2="511.2" stroke="#111" stroke-width="1.1" stroke-linecap="butt"/>
<text x="239" y="514.15" font-size="8.2" text-anchor="end" fill="#383838">0.0</text>
<line x1="256.35" y1="456.34" x2="256.35" y2="461.4" stroke="#1a1a1a" stroke-width="1.4" stroke-linecap="butt"/>
<line x1="252.35" y1="456.34" x2="260.35" y2="456.34" stroke="#1a1a1a" stroke-width="1.4" stroke-linecap="butt"/>
<rect x="248.3" y="460.4" width="16.1" height="50.8" fill="#ae0a36" stroke="#ae0a36" stroke-width="0.3"/>
<line x1="280.3" y1="506.63" x2="280.3" y2="508.14" stroke="#1a1a1a" stroke-width="1.4" stroke-linecap="butt"/>
<line x1="276.3" y1="506.63" x2="284.3" y2="506.63" stroke="#1a1a1a" stroke-width="1.4" stroke-linecap="butt"/>
<rect x="272.1" y="507.14" width="16.4" height="4.06" fill="#38548e" stroke="#38548e" stroke-width="0.3"/>
<line x1="256.35" y1="511.2" x2="256.35" y2="513.8" stroke="#111" stroke-width="1.1" stroke-linecap="butt"/>
<line x1="280.3" y1="511.2" x2="280.3" y2="513.8" stroke="#111" stroke-width="1.1" stroke-linecap="butt"/>
<text transform="translate(259.2,519) rotate(-45)" x="0" y="0" font-size="8.2" text-anchor="end" fill="#222">Cont MSC</text>
<text transform="translate(283.7,519.3) rotate(-45)" x="0" y="0" font-size="8.2" text-anchor="end" fill="#222">IDO KO MSC</text>
<line x1="344.3" y1="420.6" x2="344.3" y2="508" stroke="#111" stroke-width="1.4" stroke-linecap="butt"/>
<line x1="343.6" y1="507.3" x2="432.5" y2="507.3" stroke="#111" stroke-width="1.4" stroke-linecap="butt"/>
<line x1="341.5" y1="422.5" x2="344.3" y2="422.5" stroke="#111" stroke-width="1.1" stroke-linecap="butt"/>
<text x="338.2" y="426" font-size="8.6" text-anchor="end" fill="#383838">80</text>
<line x1="341.5" y1="443.7" x2="344.3" y2="443.7" stroke="#111" stroke-width="1.1" stroke-linecap="butt"/>
<text x="338.2" y="447.2" font-size="8.6" text-anchor="end" fill="#383838">60</text>
<line x1="341.5" y1="464.9" x2="344.3" y2="464.9" stroke="#111" stroke-width="1.1" stroke-linecap="butt"/>
<text x="338.2" y="468.4" font-size="8.6" text-anchor="end" fill="#383838">40</text>
<line x1="341.5" y1="486.1" x2="344.3" y2="486.1" stroke="#111" stroke-width="1.1" stroke-linecap="butt"/>
<text x="338.2" y="489.6" font-size="8.6" text-anchor="end" fill="#383838">20</text>
<line x1="341.5" y1="507.3" x2="344.3" y2="507.3" stroke="#111" stroke-width="1.1" stroke-linecap="butt"/>
<text x="338.2" y="510.8" font-size="8.6" text-anchor="end" fill="#383838">0</text>
<text transform="translate(319.8,464) rotate(-90)" x="0" y="3.38" font-size="9.4" text-anchor="middle" font-weight="bold" fill="#2a2a2a" textLength="45" lengthAdjust="spacingAndGlyphs">% CD3+ Ki67+</text>
<line x1="353.15" y1="438.93" x2="353.15" y2="443.64" stroke="#1a1a1a" stroke-width="1.4" stroke-linecap="butt"/>
<line x1="349.65" y1="438.93" x2="356.65" y2="438.93" stroke="#1a1a1a" stroke-width="1.4" stroke-linecap="butt"/>
<rect x="347.1" y="442.64" width="12.1" height="64.66" fill="#ae0a36" stroke="#ae0a36" stroke-width="0.3"/>
<line x1="353.15" y1="507.3" x2="353.15" y2="509.9" stroke="#111" stroke-width="1" stroke-linecap="butt"/>
<text transform="translate(356.45,515.6) rotate(-45)" x="0" y="0" font-size="8.2" text-anchor="end" fill="#222">No MSC</text>
<line x1="371.25" y1="470.62" x2="371.25" y2="472.26" stroke="#1a1a1a" stroke-width="1.4" stroke-linecap="butt"/>
<line x1="367.75" y1="470.62" x2="374.75" y2="470.62" stroke="#1a1a1a" stroke-width="1.4" stroke-linecap="butt"/>
<rect x="365.2" y="471.26" width="12.1" height="36.04" fill="#38548e" stroke="#38548e" stroke-width="0.3"/>
<line x1="371.25" y1="507.3" x2="371.25" y2="509.9" stroke="#111" stroke-width="1" stroke-linecap="butt"/>
<text transform="translate(374.55,515.6) rotate(-45)" x="0" y="0" font-size="8.2" text-anchor="end" fill="#222">Cont siRNA</text>
<line x1="388.85" y1="473.17" x2="388.85" y2="474.91" stroke="#1a1a1a" stroke-width="1.4" stroke-linecap="butt"/>
<line x1="385.35" y1="473.17" x2="392.35" y2="473.17" stroke="#1a1a1a" stroke-width="1.4" stroke-linecap="butt"/>
<rect x="382.8" y="473.91" width="12.1" height="33.39" fill="#38548e" stroke="#38548e" stroke-width="0.3"/>
<line x1="388.85" y1="507.3" x2="388.85" y2="509.9" stroke="#111" stroke-width="1" stroke-linecap="butt"/>
<text transform="translate(392.15,515.6) rotate(-45)" x="0" y="0" font-size="8.2" text-anchor="end" fill="#222">KYN siRNA</text>
<line x1="406.35" y1="475.29" x2="406.35" y2="478.62" stroke="#1a1a1a" stroke-width="1.4" stroke-linecap="butt"/>
<line x1="402.85" y1="475.29" x2="409.85" y2="475.29" stroke="#1a1a1a" stroke-width="1.4" stroke-linecap="butt"/>
<rect x="400.3" y="477.62" width="12.1" height="29.68" fill="#38548e" stroke="#38548e" stroke-width="0.3"/>
<line x1="406.35" y1="507.3" x2="406.35" y2="509.9" stroke="#111" stroke-width="1" stroke-linecap="butt"/>
<text transform="translate(409.65,515.6) rotate(-45)" x="0" y="0" font-size="8.2" text-anchor="end" fill="#222">KMO siRNA</text>
<line x1="423.95" y1="428.65" x2="423.95" y2="431.98" stroke="#1a1a1a" stroke-width="1.4" stroke-linecap="butt"/>
<line x1="420.45" y1="428.65" x2="427.45" y2="428.65" stroke="#1a1a1a" stroke-width="1.4" stroke-linecap="butt"/>
<rect x="417.9" y="430.98" width="12.1" height="76.32" fill="#38548e" stroke="#38548e" stroke-width="0.3"/>
<line x1="423.95" y1="507.3" x2="423.95" y2="509.9" stroke="#111" stroke-width="1" stroke-linecap="butt"/>
<text transform="translate(427.25,515.6) rotate(-45)" x="0" y="0" font-size="8.2" text-anchor="end" fill="#222">IDO siRNA</text>
<text x="82.5" y="584.96" font-size="9.6" text-anchor="middle" fill="#111">Donor 1</text>
<text transform="translate(19.1,640) rotate(-90)" x="0" y="3.38" font-size="9.4" text-anchor="middle" font-weight="bold" fill="#2a2a2a" textLength="45" lengthAdjust="spacingAndGlyphs">% CD3+ Ki67+</text>
<line x1="49.1" y1="599" x2="49.1" y2="687.3" stroke="#111" stroke-width="1.4" stroke-linecap="butt"/>
<line x1="48.4" y1="686.6" x2="116.7" y2="686.6" stroke="#111" stroke-width="1.4" stroke-linecap="butt"/>
<line x1="46.3" y1="600.3" x2="49.1" y2="600.3" stroke="#111" stroke-width="1.1" stroke-linecap="butt"/>
<text x="44.5" y="603.77" font-size="8.8" text-anchor="end" fill="#383838">100</text>
<line x1="46.3" y1="617.56" x2="49.1" y2="617.56" stroke="#111" stroke-width="1.1" stroke-linecap="butt"/>
<text x="44.5" y="621.03" font-size="8.8" text-anchor="end" fill="#383838">80</text>
<line x1="46.3" y1="634.82" x2="49.1" y2="634.82" stroke="#111" stroke-width="1.1" stroke-linecap="butt"/>
<text x="44.5" y="638.29" font-size="8.8" text-anchor="end" fill="#383838">60</text>
<line x1="46.3" y1="652.08" x2="49.1" y2="652.08" stroke="#111" stroke-width="1.1" stroke-linecap="butt"/>
<text x="44.5" y="655.55" font-size="8.8" text-anchor="end" fill="#383838">40</text>
<line x1="46.3" y1="669.34" x2="49.1" y2="669.34" stroke="#111" stroke-width="1.1" stroke-linecap="butt"/>
<text x="44.5" y="672.81" font-size="8.8" text-anchor="end" fill="#383838">20</text>
<line x1="46.3" y1="686.6" x2="49.1" y2="686.6" stroke="#111" stroke-width="1.1" stroke-linecap="butt"/>
<text x="44.5" y="690.07" font-size="8.8" text-anchor="end" fill="#383838">0</text>
<line x1="54.35" y1="640.86" x2="54.35" y2="643.59" stroke="#1a1a1a" stroke-width="1.4" stroke-linecap="butt"/>
<line x1="51.6" y1="640.86" x2="57.1" y2="640.86" stroke="#1a1a1a" stroke-width="1.4" stroke-linecap="butt"/>
<rect x="50.5" y="642.59" width="7.7" height="44.01" fill="#ae0a36" stroke="#ae0a36" stroke-width="0.3"/>
<line x1="54.35" y1="686.6" x2="54.35" y2="689.4" stroke="#111" stroke-width="1" stroke-linecap="butt"/>
<text x="54.35" y="701.28" font-size="9.4" text-anchor="middle" fill="#333">-</text>
<line x1="65.75" y1="660.71" x2="65.75" y2="663.87" stroke="#1a1a1a" stroke-width="1.4" stroke-linecap="butt"/>
<line x1="63" y1="660.71" x2="68.5" y2="660.71" stroke="#1a1a1a" stroke-width="1.4" stroke-linecap="butt"/>
<rect x="61.9" y="662.87" width="7.7" height="23.73" fill="#38548e" stroke="#38548e" stroke-width="0.3"/>
<line x1="65.75" y1="686.6" x2="65.75" y2="689.4" stroke="#111" stroke-width="1" stroke-linecap="butt"/>
<text x="65.75" y="701.28" font-size="9.4" text-anchor="middle" fill="#333">+</text>
<line x1="77.15" y1="653.81" x2="77.15" y2="656.53" stroke="#1a1a1a" stroke-width="1.4" stroke-linecap="butt"/>
<line x1="74.4" y1="653.81" x2="79.9" y2="653.81" stroke="#1a1a1a" stroke-width="1.4" stroke-linecap="butt"/>
<rect x="73.3" y="655.53" width="7.7" height="31.07" fill="#ae0a36" stroke="#ae0a36" stroke-width="0.3"/>
<line x1="77.15" y1="686.6" x2="77.15" y2="689.4" stroke="#111" stroke-width="1" stroke-linecap="butt"/>
<text x="77.15" y="701.28" font-size="9.4" text-anchor="middle" fill="#333">-</text>
<line x1="88.45" y1="658.55" x2="88.45" y2="662.57" stroke="#1a1a1a" stroke-width="1.4" stroke-linecap="butt"/>
<line x1="85.7" y1="658.55" x2="91.2" y2="658.55" stroke="#1a1a1a" stroke-width="1.4" stroke-linecap="butt"/>
<rect x="84.6" y="661.57" width="7.7" height="25.03" fill="#38548e" stroke="#38548e" stroke-width="0.3"/>
<line x1="88.45" y1="686.6" x2="88.45" y2="689.4" stroke="#111" stroke-width="1" stroke-linecap="butt"/>
<text x="88.45" y="701.28" font-size="9.4" text-anchor="middle" fill="#333">+</text>
<line x1="99.75" y1="637.41" x2="99.75" y2="642.29" stroke="#1a1a1a" stroke-width="1.4" stroke-linecap="butt"/>
<line x1="97" y1="637.41" x2="102.5" y2="637.41" stroke="#1a1a1a" stroke-width="1.4" stroke-linecap="butt"/>
<rect x="95.9" y="641.29" width="7.7" height="45.31" fill="#ae0a36" stroke="#ae0a36" stroke-width="0.3"/>
<line x1="99.75" y1="686.6" x2="99.75" y2="689.4" stroke="#111" stroke-width="1" stroke-linecap="butt"/>
<text x="99.75" y="701.28" font-size="9.4" text-anchor="middle" fill="#333">-</text>
<line x1="110.95" y1="658.98" x2="110.95" y2="660.85" stroke="#1a1a1a" stroke-width="1.4" stroke-linecap="butt"/>
<line x1="108.2" y1="658.98" x2="113.7" y2="658.98" stroke="#1a1a1a" stroke-width="1.4" stroke-linecap="butt"/>
<rect x="107.1" y="659.85" width="7.7" height="26.75" fill="#38548e" stroke="#38548e" stroke-width="0.3"/>
<line x1="110.95" y1="686.6" x2="110.95" y2="689.4" stroke="#111" stroke-width="1" stroke-linecap="butt"/>
<text x="110.95" y="701.28" font-size="9.4" text-anchor="middle" fill="#333">+</text>
<line x1="50.8" y1="600.8" x2="69.9" y2="600.8" stroke="#111" stroke-width="1.3" stroke-linecap="butt"/>
<line x1="50.8" y1="598.3" x2="50.8" y2="603.3" stroke="#111" stroke-width="1.2" stroke-linecap="butt"/>
<line x1="69.9" y1="598.3" x2="69.9" y2="603.3" stroke="#111" stroke-width="1.2" stroke-linecap="butt"/>
<text x="60.3" y="596.7" font-size="8.6" text-anchor="middle" fill="#333">N</text>
<line x1="72.4" y1="600.8" x2="91.1" y2="600.8" stroke="#111" stroke-width="1.3" stroke-linecap="butt"/>
<line x1="72.4" y1="598.3" x2="72.4" y2="603.3" stroke="#111" stroke-width="1.2" stroke-linecap="butt"/>
<line x1="91.1" y1="598.3" x2="91.1" y2="603.3" stroke="#111" stroke-width="1.2" stroke-linecap="butt"/>
<text x="82.1" y="596.7" font-size="8.6" text-anchor="middle" fill="#333">F</text>
<line x1="98.6" y1="600.8" x2="114.9" y2="600.8" stroke="#111" stroke-width="1.3" stroke-linecap="butt"/>
<line x1="98.6" y1="598.3" x2="98.6" y2="603.3" stroke="#111" stroke-width="1.2" stroke-linecap="butt"/>
<line x1="114.9" y1="598.3" x2="114.9" y2="603.3" stroke="#111" stroke-width="1.2" stroke-linecap="butt"/>
<text x="106.5" y="596.7" font-size="8.6" text-anchor="middle" fill="#333">S</text>
<text x="194.8" y="584.96" font-size="9.6" text-anchor="middle" fill="#111">Donor 2</text>
<text transform="translate(131.4,640) rotate(-90)" x="0" y="3.38" font-size="9.4" text-anchor="middle" font-weight="bold" fill="#2a2a2a" textLength="45" lengthAdjust="spacingAndGlyphs">% CD3+ Ki67+</text>
<line x1="161.4" y1="599" x2="161.4" y2="687.3" stroke="#111" stroke-width="1.4" stroke-linecap="butt"/>
<line x1="160.7" y1="686.6" x2="229" y2="686.6" stroke="#111" stroke-width="1.4" stroke-linecap="butt"/>
<line x1="158.6" y1="600.3" x2="161.4" y2="600.3" stroke="#111" stroke-width="1.1" stroke-linecap="butt"/>
<text x="156.8" y="603.77" font-size="8.8" text-anchor="end" fill="#383838">100</text>
<line x1="158.6" y1="617.56" x2="161.4" y2="617.56" stroke="#111" stroke-width="1.1" stroke-linecap="butt"/>
<text x="156.8" y="621.03" font-size="8.8" text-anchor="end" fill="#383838">80</text>
<line x1="158.6" y1="634.82" x2="161.4" y2="634.82" stroke="#111" stroke-width="1.1" stroke-linecap="butt"/>
<text x="156.8" y="638.29" font-size="8.8" text-anchor="end" fill="#383838">60</text>
<line x1="158.6" y1="652.08" x2="161.4" y2="652.08" stroke="#111" stroke-width="1.1" stroke-linecap="butt"/>
<text x="156.8" y="655.55" font-size="8.8" text-anchor="end" fill="#383838">40</text>
<line x1="158.6" y1="669.34" x2="161.4" y2="669.34" stroke="#111" stroke-width="1.1" stroke-linecap="butt"/>
<text x="156.8" y="672.81" font-size="8.8" text-anchor="end" fill="#383838">20</text>
<line x1="158.6" y1="686.6" x2="161.4" y2="686.6" stroke="#111" stroke-width="1.1" stroke-linecap="butt"/>
<text x="156.8" y="690.07" font-size="8.8" text-anchor="end" fill="#383838">0</text>
<rect x="162.8" y="620.49" width="7.7" height="66.11" fill="#ae0a36" stroke="#ae0a36" stroke-width="0.3"/>
<line x1="166.65" y1="686.6" x2="166.65" y2="689.4" stroke="#111" stroke-width="1" stroke-linecap="butt"/>
<text x="166.65" y="701.28" font-size="9.4" text-anchor="middle" fill="#333">-</text>
<rect x="174.2" y="648.97" width="7.7" height="37.63" fill="#38548e" stroke="#38548e" stroke-width="0.3"/>
<line x1="178.05" y1="686.6" x2="178.05" y2="689.4" stroke="#111" stroke-width="1" stroke-linecap="butt"/>
<text x="178.05" y="701.28" font-size="9.4" text-anchor="middle" fill="#333">+</text>
<rect x="185.6" y="665.02" width="7.7" height="21.58" fill="#ae0a36" stroke="#ae0a36" stroke-width="0.3"/>
<line x1="189.45" y1="686.6" x2="189.45" y2="689.4" stroke="#111" stroke-width="1" stroke-linecap="butt"/>
<text x="189.45" y="701.28" font-size="9.4" text-anchor="middle" fill="#333">-</text>
<rect x="196.9" y="664.16" width="7.7" height="22.44" fill="#38548e" stroke="#38548e" stroke-width="0.3"/>
<line x1="200.75" y1="686.6" x2="200.75" y2="689.4" stroke="#111" stroke-width="1" stroke-linecap="butt"/>
<text x="200.75" y="701.28" font-size="9.4" text-anchor="middle" fill="#333">+</text>
<rect x="208.2" y="623.6" width="7.7" height="63" fill="#ae0a36" stroke="#ae0a36" stroke-width="0.3"/>
<line x1="212.05" y1="686.6" x2="212.05" y2="689.4" stroke="#111" stroke-width="1" stroke-linecap="butt"/>
<text x="212.05" y="701.28" font-size="9.4" text-anchor="middle" fill="#333">-</text>
<rect x="219.4" y="649.66" width="7.7" height="36.94" fill="#38548e" stroke="#38548e" stroke-width="0.3"/>
<line x1="223.25" y1="686.6" x2="223.25" y2="689.4" stroke="#111" stroke-width="1" stroke-linecap="butt"/>
<text x="223.25" y="701.28" font-size="9.4" text-anchor="middle" fill="#333">+</text>
<line x1="163.1" y1="600.8" x2="182.2" y2="600.8" stroke="#111" stroke-width="1.3" stroke-linecap="butt"/>
<line x1="163.1" y1="598.3" x2="163.1" y2="603.3" stroke="#111" stroke-width="1.2" stroke-linecap="butt"/>
<line x1="182.2" y1="598.3" x2="182.2" y2="603.3" stroke="#111" stroke-width="1.2" stroke-linecap="butt"/>
<text x="172.6" y="596.7" font-size="8.6" text-anchor="middle" fill="#333">N</text>
<line x1="184.7" y1="600.8" x2="203.4" y2="600.8" stroke="#111" stroke-width="1.3" stroke-linecap="butt"/>
<line x1="184.7" y1="598.3" x2="184.7" y2="603.3" stroke="#111" stroke-width="1.2" stroke-linecap="butt"/>
<line x1="203.4" y1="598.3" x2="203.4" y2="603.3" stroke="#111" stroke-width="1.2" stroke-linecap="butt"/>
<text x="194.4" y="596.7" font-size="8.6" text-anchor="middle" fill="#333">F</text>
<line x1="210.9" y1="600.8" x2="227.2" y2="600.8" stroke="#111" stroke-width="1.3" stroke-linecap="butt"/>
<line x1="210.9" y1="598.3" x2="210.9" y2="603.3" stroke="#111" stroke-width="1.2" stroke-linecap="butt"/>
<line x1="227.2" y1="598.3" x2="227.2" y2="603.3" stroke="#111" stroke-width="1.2" stroke-linecap="butt"/>
<text x="218.8" y="596.7" font-size="8.6" text-anchor="middle" fill="#333">S</text>
<text x="306.1" y="584.96" font-size="9.6" text-anchor="middle" fill="#111">Donor 3</text>
<text transform="translate(242.7,640) rotate(-90)" x="0" y="3.38" font-size="9.4" text-anchor="middle" font-weight="bold" fill="#2a2a2a" textLength="45" lengthAdjust="spacingAndGlyphs">% CD3+ Ki67+</text>
<line x1="272.7" y1="599" x2="272.7" y2="687.3" stroke="#111" stroke-width="1.4" stroke-linecap="butt"/>
<line x1="272" y1="686.6" x2="340.3" y2="686.6" stroke="#111" stroke-width="1.4" stroke-linecap="butt"/>
<line x1="269.9" y1="600.3" x2="272.7" y2="600.3" stroke="#111" stroke-width="1.1" stroke-linecap="butt"/>
<text x="268.1" y="603.77" font-size="8.8" text-anchor="end" fill="#383838">100</text>
<line x1="269.9" y1="617.56" x2="272.7" y2="617.56" stroke="#111" stroke-width="1.1" stroke-linecap="butt"/>
<text x="268.1" y="621.03" font-size="8.8" text-anchor="end" fill="#383838">80</text>
<line x1="269.9" y1="634.82" x2="272.7" y2="634.82" stroke="#111" stroke-width="1.1" stroke-linecap="butt"/>
<text x="268.1" y="638.29" font-size="8.8" text-anchor="end" fill="#383838">60</text>
<line x1="269.9" y1="652.08" x2="272.7" y2="652.08" stroke="#111" stroke-width="1.1" stroke-linecap="butt"/>
<text x="268.1" y="655.55" font-size="8.8" text-anchor="end" fill="#383838">40</text>
<line x1="269.9" y1="669.34" x2="272.7" y2="669.34" stroke="#111" stroke-width="1.1" stroke-linecap="butt"/>
<text x="268.1" y="672.81" font-size="8.8" text-anchor="end" fill="#383838">20</text>
<line x1="269.9" y1="686.6" x2="272.7" y2="686.6" stroke="#111" stroke-width="1.1" stroke-linecap="butt"/>
<text x="268.1" y="690.07" font-size="8.8" text-anchor="end" fill="#383838">0</text>
<rect x="274.1" y="615.32" width="7.7" height="71.28" fill="#ae0a36" stroke="#ae0a36" stroke-width="0.3"/>
<line x1="277.95" y1="686.6" x2="277.95" y2="689.4" stroke="#111" stroke-width="1" stroke-linecap="butt"/>
<text x="277.95" y="701.28" font-size="9.4" text-anchor="middle" fill="#333">-</text>
<rect x="285.5" y="656.57" width="7.7" height="30.03" fill="#38548e" stroke="#38548e" stroke-width="0.3"/>
<line x1="289.35" y1="686.6" x2="289.35" y2="689.4" stroke="#111" stroke-width="1" stroke-linecap="butt"/>
<text x="289.35" y="701.28" font-size="9.4" text-anchor="middle" fill="#333">+</text>
<rect x="296.9" y="661.4" width="7.7" height="25.2" fill="#ae0a36" stroke="#ae0a36" stroke-width="0.3"/>
<line x1="300.75" y1="686.6" x2="300.75" y2="689.4" stroke="#111" stroke-width="1" stroke-linecap="butt"/>
<text x="300.75" y="701.28" font-size="9.4" text-anchor="middle" fill="#333">-</text>
<rect x="308.2" y="663.47" width="7.7" height="23.13" fill="#38548e" stroke="#38548e" stroke-width="0.3"/>
<line x1="312.05" y1="686.6" x2="312.05" y2="689.4" stroke="#111" stroke-width="1" stroke-linecap="butt"/>
<text x="312.05" y="701.28" font-size="9.4" text-anchor="middle" fill="#333">+</text>
<rect x="319.5" y="639.48" width="7.7" height="47.12" fill="#ae0a36" stroke="#ae0a36" stroke-width="0.3"/>
<line x1="323.35" y1="686.6" x2="323.35" y2="689.4" stroke="#111" stroke-width="1" stroke-linecap="butt"/>
<text x="323.35" y="701.28" font-size="9.4" text-anchor="middle" fill="#333">-</text>
<rect x="330.7" y="653.98" width="7.7" height="32.62" fill="#38548e" stroke="#38548e" stroke-width="0.3"/>
<line x1="334.55" y1="686.6" x2="334.55" y2="689.4" stroke="#111" stroke-width="1" stroke-linecap="butt"/>
<text x="334.55" y="701.28" font-size="9.4" text-anchor="middle" fill="#333">+</text>
<line x1="274.4" y1="600.8" x2="293.5" y2="600.8" stroke="#111" stroke-width="1.3" stroke-linecap="butt"/>
<line x1="274.4" y1="598.3" x2="274.4" y2="603.3" stroke="#111" stroke-width="1.2" stroke-linecap="butt"/>
<line x1="293.5" y1="598.3" x2="293.5" y2="603.3" stroke="#111" stroke-width="1.2" stroke-linecap="butt"/>
<text x="283.9" y="596.7" font-size="8.6" text-anchor="middle" fill="#333">N</text>
<line x1="296" y1="600.8" x2="314.7" y2="600.8" stroke="#111" stroke-width="1.3" stroke-linecap="butt"/>
<line x1="296" y1="598.3" x2="296" y2="603.3" stroke="#111" stroke-width="1.2" stroke-linecap="butt"/>
<line x1="314.7" y1="598.3" x2="314.7" y2="603.3" stroke="#111" stroke-width="1.2" stroke-linecap="butt"/>
<text x="305.7" y="596.7" font-size="8.6" text-anchor="middle" fill="#333">F</text>
<line x1="322.2" y1="600.8" x2="338.5" y2="600.8" stroke="#111" stroke-width="1.3" stroke-linecap="butt"/>
<line x1="322.2" y1="598.3" x2="322.2" y2="603.3" stroke="#111" stroke-width="1.2" stroke-linecap="butt"/>
<line x1="338.5" y1="598.3" x2="338.5" y2="603.3" stroke="#111" stroke-width="1.2" stroke-linecap="butt"/>
<text x="330.1" y="596.7" font-size="8.6" text-anchor="middle" fill="#333">S</text>
<text x="418.2" y="584.96" font-size="9.6" text-anchor="middle" fill="#111">Donor 4</text>
<text transform="translate(354.8,640) rotate(-90)" x="0" y="3.38" font-size="9.4" text-anchor="middle" font-weight="bold" fill="#2a2a2a" textLength="45" lengthAdjust="spacingAndGlyphs">% CD3+ Ki67+</text>
<line x1="384.8" y1="599" x2="384.8" y2="687.3" stroke="#111" stroke-width="1.4" stroke-linecap="butt"/>
<line x1="384.1" y1="686.6" x2="452.4" y2="686.6" stroke="#111" stroke-width="1.4" stroke-linecap="butt"/>
<line x1="382" y1="600.3" x2="384.8" y2="600.3" stroke="#111" stroke-width="1.1" stroke-linecap="butt"/>
<text x="380.2" y="603.77" font-size="8.8" text-anchor="end" fill="#383838">100</text>
<line x1="382" y1="617.56" x2="384.8" y2="617.56" stroke="#111" stroke-width="1.1" stroke-linecap="butt"/>
<text x="380.2" y="621.03" font-size="8.8" text-anchor="end" fill="#383838">80</text>
<line x1="382" y1="634.82" x2="384.8" y2="634.82" stroke="#111" stroke-width="1.1" stroke-linecap="butt"/>
<text x="380.2" y="638.29" font-size="8.8" text-anchor="end" fill="#383838">60</text>
<line x1="382" y1="652.08" x2="384.8" y2="652.08" stroke="#111" stroke-width="1.1" stroke-linecap="butt"/>
<text x="380.2" y="655.55" font-size="8.8" text-anchor="end" fill="#383838">40</text>
<line x1="382" y1="669.34" x2="384.8" y2="669.34" stroke="#111" stroke-width="1.1" stroke-linecap="butt"/>
<text x="380.2" y="672.81" font-size="8.8" text-anchor="end" fill="#383838">20</text>
<line x1="382" y1="686.6" x2="384.8" y2="686.6" stroke="#111" stroke-width="1.1" stroke-linecap="butt"/>
<text x="380.2" y="690.07" font-size="8.8" text-anchor="end" fill="#383838">0</text>
<line x1="390.05" y1="627.05" x2="390.05" y2="637.11" stroke="#1a1a1a" stroke-width="1.4" stroke-linecap="butt"/>
<line x1="387.3" y1="627.05" x2="392.8" y2="627.05" stroke="#1a1a1a" stroke-width="1.4" stroke-linecap="butt"/>
<rect x="386.2" y="636.11" width="7.7" height="50.49" fill="#ae0a36" stroke="#ae0a36" stroke-width="0.3"/>
<line x1="390.05" y1="686.6" x2="390.05" y2="689.4" stroke="#111" stroke-width="1" stroke-linecap="butt"/>
<text x="390.05" y="701.28" font-size="9.4" text-anchor="middle" fill="#333">-</text>
<line x1="401.45" y1="663.3" x2="401.45" y2="666.89" stroke="#1a1a1a" stroke-width="1.4" stroke-linecap="butt"/>
<line x1="398.7" y1="663.3" x2="404.2" y2="663.3" stroke="#1a1a1a" stroke-width="1.4" stroke-linecap="butt"/>
<rect x="397.6" y="665.89" width="7.7" height="20.71" fill="#38548e" stroke="#38548e" stroke-width="0.3"/>
<line x1="401.45" y1="686.6" x2="401.45" y2="689.4" stroke="#111" stroke-width="1" stroke-linecap="butt"/>
<text x="401.45" y="701.28" font-size="9.4" text-anchor="middle" fill="#333">+</text>
<line x1="412.85" y1="675.21" x2="412.85" y2="676.81" stroke="#1a1a1a" stroke-width="1.4" stroke-linecap="butt"/>
<line x1="410.1" y1="675.21" x2="415.6" y2="675.21" stroke="#1a1a1a" stroke-width="1.4" stroke-linecap="butt"/>
<rect x="409" y="675.81" width="7.7" height="10.79" fill="#ae0a36" stroke="#ae0a36" stroke-width="0.3"/>
<line x1="412.85" y1="686.6" x2="412.85" y2="689.4" stroke="#111" stroke-width="1" stroke-linecap="butt"/>
<text x="412.85" y="701.28" font-size="9.4" text-anchor="middle" fill="#333">-</text>
<line x1="424.15" y1="680.13" x2="424.15" y2="682.85" stroke="#1a1a1a" stroke-width="1.4" stroke-linecap="butt"/>
<line x1="421.4" y1="680.13" x2="426.9" y2="680.13" stroke="#1a1a1a" stroke-width="1.4" stroke-linecap="butt"/>
<rect x="420.3" y="681.85" width="7.7" height="4.75" fill="#38548e" stroke="#38548e" stroke-width="0.3"/>
<line x1="424.15" y1="686.6" x2="424.15" y2="689.4" stroke="#111" stroke-width="1" stroke-linecap="butt"/>
<text x="424.15" y="701.28" font-size="9.4" text-anchor="middle" fill="#333">+</text>
<line x1="435.45" y1="623.17" x2="435.45" y2="632.8" stroke="#1a1a1a" stroke-width="1.4" stroke-linecap="butt"/>
<line x1="432.7" y1="623.17" x2="438.2" y2="623.17" stroke="#1a1a1a" stroke-width="1.4" stroke-linecap="butt"/>
<rect x="431.6" y="631.8" width="7.7" height="54.8" fill="#ae0a36" stroke="#ae0a36" stroke-width="0.3"/>
<line x1="435.45" y1="686.6" x2="435.45" y2="689.4" stroke="#111" stroke-width="1" stroke-linecap="butt"/>
<text x="435.45" y="701.28" font-size="9.4" text-anchor="middle" fill="#333">-</text>
<line x1="446.65" y1="646.04" x2="446.65" y2="650.92" stroke="#1a1a1a" stroke-width="1.4" stroke-linecap="butt"/>
<line x1="443.9" y1="646.04" x2="449.4" y2="646.04" stroke="#1a1a1a" stroke-width="1.4" stroke-linecap="butt"/>
<rect x="442.8" y="649.92" width="7.7" height="36.68" fill="#38548e" stroke="#38548e" stroke-width="0.3"/>
<line x1="446.65" y1="686.6" x2="446.65" y2="689.4" stroke="#111" stroke-width="1" stroke-linecap="butt"/>
<text x="446.65" y="701.28" font-size="9.4" text-anchor="middle" fill="#333">+</text>
<line x1="386.5" y1="600.8" x2="405.6" y2="600.8" stroke="#111" stroke-width="1.3" stroke-linecap="butt"/>
<line x1="386.5" y1="598.3" x2="386.5" y2="603.3" stroke="#111" stroke-width="1.2" stroke-linecap="butt"/>
<line x1="405.6" y1="598.3" x2="405.6" y2="603.3" stroke="#111" stroke-width="1.2" stroke-linecap="butt"/>
<text x="396" y="596.7" font-size="8.6" text-anchor="middle" fill="#333">N</text>
<line x1="408.1" y1="600.8" x2="426.8" y2="600.8" stroke="#111" stroke-width="1.3" stroke-linecap="butt"/>
<line x1="408.1" y1="598.3" x2="408.1" y2="603.3" stroke="#111" stroke-width="1.2" stroke-linecap="butt"/>
<line x1="426.8" y1="598.3" x2="426.8" y2="603.3" stroke="#111" stroke-width="1.2" stroke-linecap="butt"/>
<text x="417.8" y="596.7" font-size="8.6" text-anchor="middle" fill="#333">F</text>
<line x1="434.3" y1="600.8" x2="450.6" y2="600.8" stroke="#111" stroke-width="1.3" stroke-linecap="butt"/>
<line x1="434.3" y1="598.3" x2="434.3" y2="603.3" stroke="#111" stroke-width="1.2" stroke-linecap="butt"/>
<line x1="450.6" y1="598.3" x2="450.6" y2="603.3" stroke="#111" stroke-width="1.2" stroke-linecap="butt"/>
<text x="442.2" y="596.7" font-size="8.6" text-anchor="middle" fill="#333">S</text>
<text x="461.3" y="635.13" font-size="8.7">N= No MSC</text>
<text x="461.3" y="649.13" font-size="8.7">F= Fit MSC</text>
<text x="461.3" y="663.43" font-size="8.7">S=Senescent</text>
<text x="473" y="673.13" font-size="8.7">MSC</text>
<text x="233.8" y="713.21" font-size="9.2" font-weight="bold" fill="#1a1a1a" textLength="33" lengthAdjust="spacingAndGlyphs">Kynurenine</text>
</svg></body></html>
